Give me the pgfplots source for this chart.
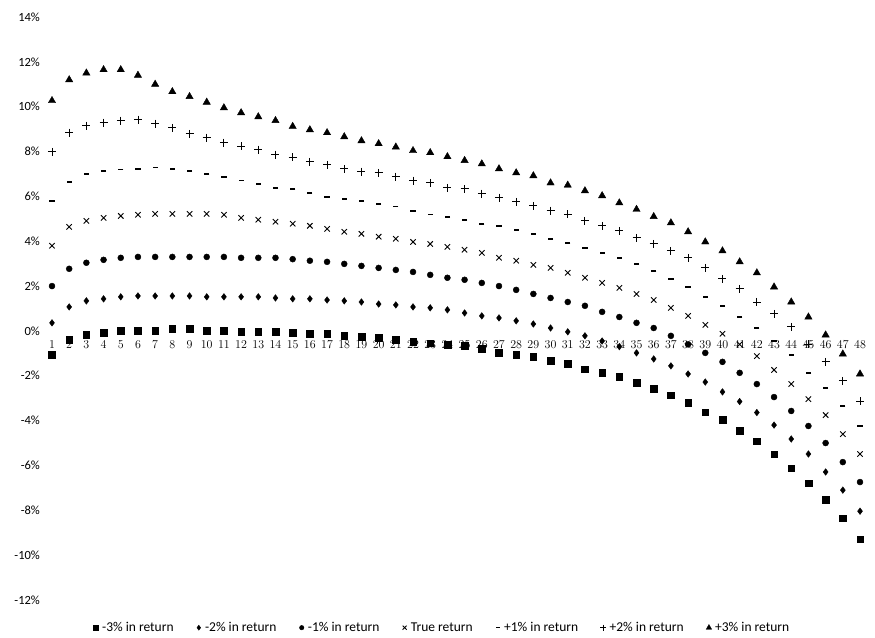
\documentclass[border=0pt]{standalone}
\usepackage{fontspec}
\setmainfont{Carlito}
\newfontfamily\tickserif{Liberation Serif}
\usepackage{pgfplots}
\usepackage{pgfplotstable}
\pgfplotsset{compat=1.18}

\pgfplotstableread{
x  m3     m2     m1     t      p1     p2     p3
1  -1.07  0.36   2.00   3.80   5.80   7.99   10.27
2  -0.40  1.07   2.77   4.64   6.65   8.84   11.20
3  -0.18  1.34   3.04   4.91   7.00   9.15   11.50
4  -0.09  1.43   3.17   5.04   7.14   9.29   11.65
5  0.00   1.52   3.26   5.13   7.19   9.38   11.65
6  0.00   1.56   3.30   5.18   7.23   9.42   11.40
7  0.00   1.56   3.30   5.22   7.28   9.24   11.00
8  0.09   1.56   3.30   5.22   7.23   9.06   10.67
9  0.09   1.56   3.30   5.22   7.14   8.79   10.45
10 0.00   1.52   3.30   5.22   7.00   8.62   10.20
11 0.00   1.52   3.30   5.18   6.87   8.40   9.95
12 -0.04  1.52   3.26   5.04   6.70   8.23   9.73
13 -0.04  1.52   3.26   4.96   6.56   8.08   9.55
14 -0.04  1.47   3.26   4.87   6.38   7.86   9.38
15 -0.09  1.43   3.20   4.78   6.34   7.75   9.12
16 -0.13  1.43   3.13   4.69   6.16   7.54   8.97
17 -0.13  1.38   3.08   4.55   5.98   7.41   8.84
18 -0.22  1.34   2.99   4.42   5.89   7.23   8.66
19 -0.27  1.29   2.90   4.33   5.80   7.10   8.48
20 -0.31  1.20   2.81   4.20   5.65   7.05   8.35
21 -0.40  1.16   2.72   4.11   5.54   6.88   8.20
22 -0.49  1.07   2.63   3.97   5.36   6.70   8.04
23 -0.54  1.03   2.50   3.88   5.20   6.60   7.95
24 -0.62  0.94   2.37   3.75   5.09   6.38   7.77
25 -0.67  0.80   2.28   3.62   4.96   6.34   7.60
26 -0.80  0.67   2.14   3.48   4.78   6.12   7.45
27 -0.98  0.58   2.00   3.26   4.69   5.94   7.23
28 -1.07  0.45   1.83   3.13   4.51   5.76   7.05
29 -1.16  0.31   1.65   2.95   4.33   5.58   6.92
30 -1.34  0.13   1.47   2.81   4.11   5.36   6.60
31 -1.47  -0.04  1.29   2.59   3.93   5.20   6.50
32 -1.70  -0.22  1.12   2.37   3.71   4.91   6.25
33 -1.87  -0.45  0.85   2.14   3.48   4.69   6.03
34 -2.05  -0.70  0.62   1.92   3.26   4.46   5.71
35 -2.32  -0.98  0.36   1.65   2.99   4.15   5.42
36 -2.59  -1.25  0.13   1.38   2.68   3.88   5.10
37 -2.86  -1.56  -0.22  1.03   2.32   3.57   4.82
38 -3.21  -1.92  -0.60  0.67   1.96   3.26   4.42
39 -3.62  -2.28  -0.98  0.27   1.52   2.81   3.97
40 -3.97  -2.72  -1.38  -0.13  1.12   2.32   3.57
41 -4.46  -3.15  -1.87  -0.60  0.62   1.88   3.08
42 -4.91  -3.64  -2.37  -1.12  0.13   1.29   2.59
43 -5.49  -4.20  -2.95  -1.74  -0.45  0.76   1.96
44 -6.12  -4.82  -3.57  -2.37  -1.07  0.18   1.29
45 -6.79  -5.49  -4.24  -3.04  -1.87  -0.60  0.62
46 -7.54  -6.29  -5.00  -3.75  -2.54  -1.38  -0.18
47 -8.35  -7.10  -5.85  -4.60  -3.35  -2.23  -1.03
48 -9.29  -8.04  -6.74  -5.49  -4.24  -3.13  -1.92
}\data

\begin{document}
\begin{tikzpicture}
\begin{axis}[
  scale only axis,
  width=825.2pt, height=583pt,
  xmin=0.5, xmax=48.5, ymin=-12, ymax=14,
  axis x line*=middle, axis y line*=left,
  axis line style={draw=none},
  major tick length=0pt,
  xtick={1,...,48},
  xticklabel style={font=\tickserif\bfseries\fontsize{13}{15}\selectfont, yshift=-6.5pt},
  ytick={-12,-10,...,14},
  yticklabels={-12\%,-10\%,-8\%,-6\%,-4\%,-2\%,0\%,2\%,4\%,6\%,8\%,10\%,12\%,14\%},
  yticklabel style={font=\fontsize{12.5}{14}\selectfont},
  legend columns=7,
  legend style={draw=none, at={(0.4824,-0.0475)}, anchor=center,
    font=\fontsize{13.5}{15}\selectfont,
    /tikz/every even column/.append style={column sep=19pt}},
  legend cell align=left,
  legend image code/.code={\path (0pt,0pt) (8pt,0pt); \draw[#1] plot coordinates {(4pt,0pt)};},
  legend image post style={every mark/.append style={scale=0.75}},
  clip=false,
]
\coordinate (sw) at (rel axis cs:0,0);
\addplot[only marks, black, mark=square*, mark size=3.3pt] table[x=x,y=m3]{\data};
\addlegendentry{-3\% in return}
\addplot[only marks, black, mark=diamond*, mark size=3.3pt] table[x=x,y=m2]{\data};
\addlegendentry{-2\% in return}
\addplot[only marks, black, mark=*, mark size=3pt] table[x=x,y=m1]{\data};
\addlegendentry{-1\% in return}
\addplot[only marks, black, mark=x, mark size=3.8pt, mark options={line width=0.9pt}] table[x=x,y=t]{\data};
\addlegendentry{True return}
\addplot[only marks, black, mark=-, mark size=2.6pt, mark options={line width=1.6pt}] table[x=x,y=p1]{\data};
\addlegendentry{+1\% in return}
\addplot[only marks, black, mark=+, mark size=4pt, mark options={line width=0.9pt}] table[x=x,y=p2]{\data};
\addlegendentry{+2\% in return}
\addplot[only marks, black, mark=triangle*, mark size=4.2pt] table[x=x,y=p3]{\data};
\addlegendentry{+3\% in return}
\end{axis}
\pgfresetboundingbox
\path ([shift={(-43.4pt,-37pt)}]sw) rectangle ([shift={(831.6pt,600pt)}]sw);
\end{tikzpicture}
\end{document}
